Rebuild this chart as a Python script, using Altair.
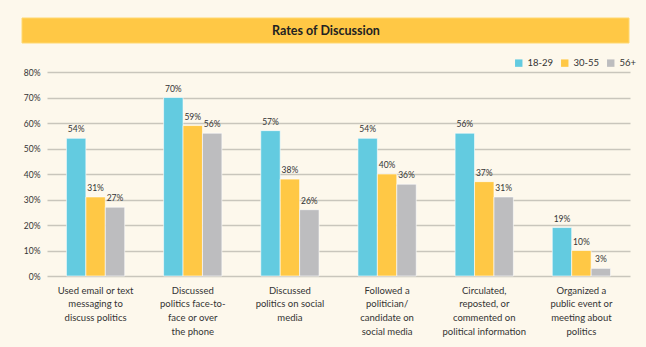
import altair as alt
import pandas as pd

categories = [
    "Used email or text|messaging to|discuss politics",
    "Discussed|politics face-to-|face or over|the phone",
    "Discussed|politics on social|media",
    "Followed a|politician/|candidate on|social media",
    "Circulated,|reposted, or|commented on|political information",
    "Organized a|public event or|meeting about|politics",
]
groups = ["18-29", "30-55", "56+"]
age_18_29 = [54, 70, 57, 54, 56, 19]
age_30_55 = [31, 59, 38, 40, 37, 10]
age_56_plus = [27, 56, 26, 36, 31, 3]
y_ticks = [0, 10, 20, 30, 40, 50, 60, 70, 80]
title_text = "Rates of Discussion"

colors = ["#63CBE0", "#FFC845", "#BDBDBF"]
FONT = "Lato"

rows = []
for series, name in zip([age_18_29, age_30_55, age_56_plus], groups):
    for c, v in zip(categories, series):
        rows.append({"category": c, "group": name, "value": v})
df = pd.DataFrame(rows)

x_axis = alt.Axis(
    title=None,
    labelAngle=0,
    labelExpr="split(datum.label, '|')",
    labelFont=FONT,
    labelFontSize=9.5,
    labelColor="#333333",
    labelPadding=9,
    labelLineHeight=13.7,
    labelBaseline="top",
    labelOverlap=False,
    ticks=False,
    domain=False,
)
y_axis = alt.Axis(
    title=None,
    values=y_ticks,
    labelExpr="datum.value + '%'",
    labelFont=FONT,
    labelFontSize=8.5,
    labelColor="#333333",
    labelPadding=7,
    labelOverlap=False,
    ticks=False,
    domain=False,
    grid=True,
    gridColor="#C9C6BC",
    gridWidth=1.5,
)
x_enc = alt.X("category:N", sort=categories,
              scale=alt.Scale(paddingInner=0.4, paddingOuter=0.2), axis=x_axis)
y_enc = alt.Y("value:Q", scale=alt.Scale(domain=[0, 80], nice=False), axis=y_axis)

base = alt.Chart(df)

bars = base.mark_bar(stroke="#FFFFFF", strokeWidth=0.6).encode(
    x=x_enc,
    xOffset=alt.XOffset("group:N", sort=groups),
    y=y_enc,
    color=alt.Color(
        "group:N",
        sort=groups,
        scale=alt.Scale(domain=groups, range=colors),
        legend=alt.Legend(
            title=None,
            orient="none",
            direction="horizontal",
            legendX=467,
            legendY=-14,
            symbolType="square",
            symbolSize=55,
            symbolStrokeWidth=0,
            labelFont=FONT,
            labelFontSize=9.5,
            labelColor="#333333",
            columnPadding=6,
            labelOffset=4,
        ),
    ),
)

labels = base.transform_calculate(lbl="datum.value + '%'").mark_text(
    dy=-4, fontSize=8.5, font=FONT, color="#333333", baseline="bottom"
).encode(
    x=x_enc,
    xOffset=alt.XOffset("group:N", sort=groups),
    y=y_enc,
    text="lbl:N",
)

band = alt.Chart(pd.DataFrame({"t": [title_text]})).mark_rect(
    color="#FFC845", stroke="#FFD870", strokeWidth=1
).encode(
    x=alt.value(-25), x2=alt.value(582), y=alt.value(-54), y2=alt.value(-29)
)
band_text = alt.Chart(pd.DataFrame({"t": [title_text]})).mark_text(
    font=FONT, fontSize=12.5, fontWeight="bold", color="#222222", baseline="middle", align="center"
).encode(
    x=alt.value(279), y=alt.value(-41.5), text="t:N"
)

chart = alt.layer(bars, labels, band, band_text).properties(
    width=583,
    height=204,
    background="#FDF8EC",
    padding={"left": 47, "top": 72, "right": 16, "bottom": 71},
    autosize=alt.AutoSizeParams(type="none"),
).configure_view(stroke=None)

chart.save("out.html", embed_options={"renderer": "svg", "actions": False})
